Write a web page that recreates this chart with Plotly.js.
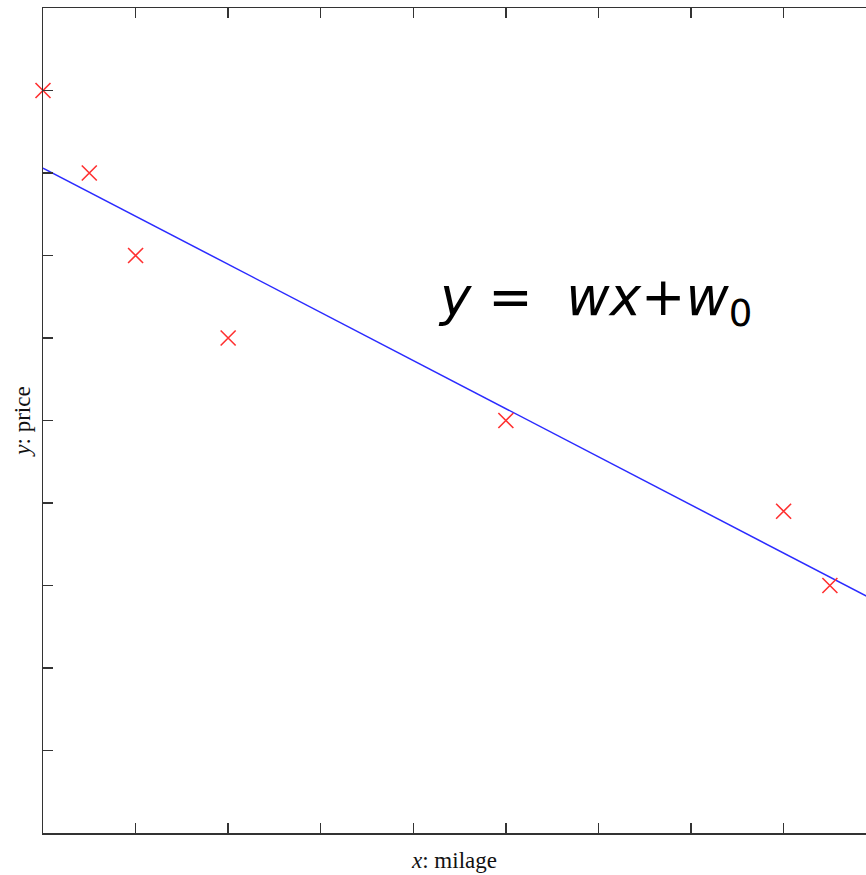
<!DOCTYPE html>
<html>
<head>
<meta charset="utf-8">
<script src="https://cdn.plot.ly/plotly-3.0.1.min.js"></script>
<style>html,body{margin:0;padding:0;background:#fff;}#chart{width:866px;height:875px;}</style>
</head>
<body>
<div id="chart"></div>
<script>
// milage (x) and price (y) observations
const mileage = [0, 0.5, 1, 2, 5, 8, 8.5];
const price = [9, 8, 7, 6, 5, 3.9, 3];
// fitted line endpoints
const fitX = [0, 9];
const fitY = [8.06, 2.81];
const tickVals = [0, 1, 2, 3, 4, 5, 6, 7, 8, 9, 10];

const data = [
  {x: fitX, y: fitY, type: 'scatter', mode: 'lines',
   line: {color: '#2b2bff', width: 1.5}, hoverinfo: 'skip', showlegend: false},
  {x: mileage, y: price, type: 'scatter', mode: 'markers', cliponaxis: false,
   marker: {symbol: 'x-thin-open', size: 15, line: {color: '#ff3030', width: 1.6}, color: '#ff3030'},
   showlegend: false}
];

const layout = {
  width: 866, height: 875,
  margin: {l: 43, r: 0, t: 8, b: 42},
  paper_bgcolor: '#fff', plot_bgcolor: '#fff',
  showlegend: false,
  xaxis: {
    range: [0, 8.89], showgrid: false, zeroline: false,
    tickvals: tickVals, ticks: 'inside', ticklen: 10, tickwidth: 1.5, tickcolor: '#333',
    showticklabels: false, showline: true, linecolor: '#333', linewidth: 1.5, mirror: 'ticks',
    title: {text: '<i>x</i>: milage', font: {family: 'Liberation Serif', size: 23, color: '#111'}, standoff: 18}
  },
  yaxis: {
    range: [0, 10], showgrid: false, zeroline: false,
    tickvals: tickVals, ticks: 'inside', ticklen: 10, tickwidth: 1.5, tickcolor: '#333',
    showticklabels: false, showline: true, linecolor: '#333', linewidth: 1.5, mirror: false,
    title: {text: '<i>y</i>: price', font: {family: 'Liberation Serif', size: 23, color: '#111'}, standoff: 4}
  },
  annotations: [{
    xref: 'paper', yref: 'paper', x: 0.478, y: 0.646, xanchor: 'left', yanchor: 'middle',
    text: '<i>y</i> =  <i>wx</i>+<i>w</i><sub>0</sub>', showarrow: false,
    font: {family: 'DejaVu Sans', size: 53, color: '#000'}
  }]
};

Plotly.newPlot('chart', data, layout, {displayModeBar: false, staticPlot: true});
</script>
</body>
</html>
